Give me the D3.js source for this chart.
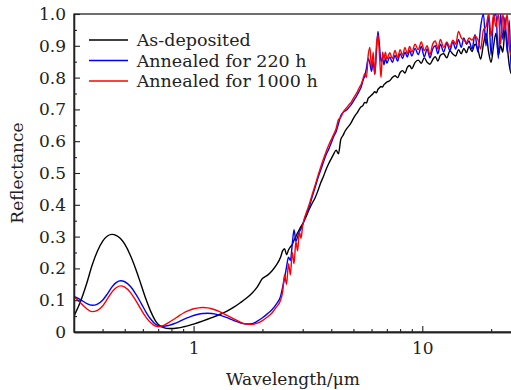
<!DOCTYPE html>
<html>
<head>
<meta charset="utf-8">
<script src="https://cdn.jsdelivr.net/npm/d3@7"></script>
<style>
    body { margin: 0; background: #fff; }
    svg { display: block; font-family: 'DejaVu Serif', serif; }
</style>
</head>
<body>
<svg id="chart"></svg>
<script>
// wavelength in um (shared grid for all three spectra)
const wavelength = [
    0.30, 0.32, 0.34, 0.36, 0.38, 0.40, 0.42, 0.44, 0.46, 0.48,
    0.50, 0.53, 0.56, 0.59, 0.62, 0.65, 0.68, 0.71, 0.74, 0.78,
    0.82, 0.86, 0.90, 0.95, 1.0, 1.05, 1.1, 1.15, 1.2, 1.3,
    1.4, 1.5, 1.6, 1.7, 1.8, 1.9, 2.0, 2.1, 2.2, 2.3,
    2.4, 2.45, 2.5, 2.55, 2.6, 2.65, 2.7, 2.75, 2.8, 2.85,
    2.9, 2.95, 3.0, 3.1, 3.2, 3.3, 3.4, 3.5, 3.6, 3.7,
    3.8, 3.9, 4.0, 4.1, 4.2, 4.3, 4.4, 4.5, 4.6, 4.7,
    4.8, 4.9, 5.0, 5.1, 5.2, 5.3, 5.4, 5.5, 5.6, 5.7,
    5.8, 5.9, 6.0, 6.1, 6.2, 6.3, 6.4, 6.5, 6.6, 6.7,
    6.8, 6.9, 7.0, 7.2, 7.4, 7.6, 7.8, 8.0, 8.2, 8.4,
    8.6, 8.8, 9.0, 9.3, 9.6, 9.9, 10.2, 10.5, 10.8, 11.1,
    11.4, 11.7, 12.0, 12.4, 12.8, 13.2, 13.6, 14.0, 14.4, 14.8,
    15.2, 15.6, 16.0, 16.5, 17.0, 17.5, 18.0, 18.5, 19.0, 19.5,
    20.0, 20.5, 21.0, 21.5, 22.0, 22.5, 23.0, 23.5, 24.0, 24.5,
    25.0
];

const as_deposited = [
    0.050, 0.095, 0.150, 0.210, 0.255, 0.285, 0.302, 0.307, 0.303, 0.293,
    0.276, 0.240, 0.196, 0.148, 0.102, 0.064, 0.036, 0.020, 0.014, 0.011,
    0.011, 0.013, 0.016, 0.020, 0.025, 0.030, 0.035, 0.040, 0.045, 0.055,
    0.066, 0.078, 0.092, 0.106, 0.122, 0.142, 0.168, 0.178, 0.192, 0.210,
    0.235, 0.255, 0.262, 0.243, 0.258, 0.268, 0.275, 0.289, 0.300, 0.312,
    0.322, 0.332, 0.340, 0.362, 0.385, 0.405, 0.422, 0.445, 0.470, 0.490,
    0.512, 0.530, 0.545, 0.560, 0.572, 0.560, 0.605, 0.618, 0.632, 0.642,
    0.650, 0.660, 0.672, 0.682, 0.690, 0.700, 0.708, 0.712, 0.722, 0.720,
    0.735, 0.740, 0.745, 0.750, 0.756, 0.752, 0.763, 0.768, 0.772, 0.770,
    0.778, 0.782, 0.786, 0.790, 0.800, 0.806, 0.800, 0.816, 0.822, 0.814,
    0.832, 0.838, 0.828, 0.848, 0.855, 0.845, 0.862, 0.848, 0.842, 0.856,
    0.866, 0.852, 0.870, 0.875, 0.862, 0.884, 0.874, 0.868, 0.888, 0.875,
    0.892, 0.878, 0.898, 0.882, 0.905, 0.888, 0.858, 0.905, 0.940, 0.880,
    0.848, 0.900, 0.940, 0.870, 0.900, 0.880, 0.950, 0.900, 0.840, 0.812,
    0.830
];

const annealed_220 = [
    0.112, 0.102, 0.090, 0.084, 0.088, 0.100, 0.120, 0.142, 0.156, 0.161,
    0.158, 0.143, 0.118, 0.090, 0.062, 0.040, 0.025, 0.018, 0.018, 0.021,
    0.026, 0.032, 0.039, 0.046, 0.052, 0.056, 0.058, 0.059, 0.058, 0.053,
    0.045, 0.036, 0.029, 0.025, 0.026, 0.034, 0.045, 0.057, 0.070, 0.088,
    0.112, 0.140, 0.170, 0.205, 0.235, 0.225, 0.275, 0.322, 0.285, 0.300,
    0.315, 0.325, 0.338, 0.368, 0.392, 0.425, 0.455, 0.485, 0.510, 0.535,
    0.558, 0.575, 0.595, 0.615, 0.630, 0.655, 0.680, 0.690, 0.695, 0.700,
    0.708, 0.716, 0.726, 0.736, 0.746, 0.758, 0.770, 0.790, 0.805, 0.830,
    0.860, 0.845, 0.820, 0.850, 0.810, 0.880, 0.945, 0.900, 0.850, 0.862,
    0.840, 0.862, 0.845, 0.865, 0.848, 0.870, 0.852, 0.875, 0.860, 0.880,
    0.865, 0.885, 0.868, 0.892, 0.872, 0.898, 0.865, 0.890, 0.862, 0.890,
    0.900, 0.875, 0.905, 0.880, 0.908, 0.885, 0.912, 0.890, 0.920, 0.895,
    0.925, 0.905, 0.915, 0.890, 0.935, 0.880, 0.960, 1.000, 0.900, 1.000,
    0.870, 0.990, 1.000, 0.860, 1.000, 0.920, 0.990, 0.880, 0.980, 0.820,
    0.900
];

const annealed_1000 = [
    0.112, 0.092, 0.074, 0.064, 0.068, 0.082, 0.104, 0.126, 0.140, 0.145,
    0.141, 0.124, 0.098, 0.070, 0.046, 0.029, 0.019, 0.017, 0.021, 0.030,
    0.040, 0.050, 0.059, 0.067, 0.073, 0.076, 0.077, 0.076, 0.073, 0.064,
    0.052, 0.041, 0.031, 0.025, 0.024, 0.028, 0.036, 0.047, 0.060, 0.078,
    0.100, 0.125, 0.180, 0.150, 0.215, 0.180, 0.250, 0.215, 0.285, 0.255,
    0.315, 0.295, 0.335, 0.372, 0.400, 0.432, 0.462, 0.492, 0.520, 0.545,
    0.568, 0.588, 0.605, 0.622, 0.640, 0.668, 0.675, 0.690, 0.700, 0.708,
    0.716, 0.724, 0.735, 0.745, 0.755, 0.768, 0.778, 0.795, 0.812, 0.800,
    0.870, 0.895, 0.830, 0.880, 0.810, 0.900, 0.935, 0.870, 0.800, 0.880,
    0.860, 0.880, 0.858, 0.878, 0.860, 0.885, 0.862, 0.888, 0.870, 0.895,
    0.875, 0.898, 0.880, 0.905, 0.888, 0.912, 0.885, 0.900, 0.872, 0.905,
    0.915, 0.890, 0.920, 0.895, 0.912, 0.895, 0.918, 0.905, 0.945, 0.925,
    0.918, 0.910, 0.925, 0.918, 0.930, 0.920, 0.890, 0.950, 0.960, 1.000,
    0.930, 1.000, 0.960, 1.000, 0.905, 1.000, 0.950, 1.000, 0.900, 0.870,
    0.900
];

const series_names = ['As-deposited', 'Annealed for 220 h', 'Annealed for 1000 h'];
const series_colors = ['#000000', '#0000ff', '#ff0000'];

const x_major_ticks = [1, 10];
const x_minor_ticks = [0.4, 0.5, 0.6, 0.7, 0.8, 0.9, 2, 3, 4, 5, 6, 7, 8, 9, 20];
const y_major_ticks = [0, 0.1, 0.2, 0.3, 0.4, 0.5, 0.6, 0.7, 0.8, 0.9, 1.0];
const y_minor_ticks = [0.05, 0.15, 0.25, 0.35, 0.45, 0.55, 0.65, 0.75, 0.85, 0.95];

class SpectrumChart {
    constructor (config, data) {
        this.config = {
            parent: config.parent,
            width: config.width || 511,
            height: config.height || 390,
            margin: config.margin || {top:14, right:0, bottom:58, left:74},
            xlabel: config.xlabel || '',
            ylabel: config.ylabel || '',
        };
        this.data = data;
        this.init();
    }

    init() {
        let self = this;

        self.svg = d3.select(self.config.parent)
            .attr('width', self.config.width)
            .attr('height', self.config.height);

        self.inner_width = 439.3;
        self.inner_height = self.config.height - self.config.margin.top - self.config.margin.bottom;

        self.chart = self.svg.append('g')
            .attr('transform', `translate(${self.config.margin.left}, ${self.config.margin.top})`);

        self.svg.append('clipPath')
            .attr('id', 'plot-clip')
            .append('rect')
            .attr('width', self.inner_width)
            .attr('height', self.inner_height);

        self.xscale = d3.scaleLog()
            .domain([0.3, 25])
            .range([0, self.inner_width]);

        self.yscale = d3.scaleLinear()
            .domain([0, 1])
            .range([self.inner_height, 0]);

        self.line = d3.line()
            .x( d => self.xscale(d.x) )
            .y( d => self.yscale(d.y) )
            .curve(d3.curveMonotoneX);

        // frame
        self.chart.append('rect')
            .attr('width', self.inner_width)
            .attr('height', self.inner_height)
            .attr('fill', 'none')
            .attr('stroke', '#222')
            .attr('stroke-width', 1.3);

        self.lines_group = self.chart.append('g')
            .attr('clip-path', 'url(#plot-clip)');

        self.xaxis = d3.axisBottom(self.xscale)
            .tickValues(x_major_ticks)
            .tickFormat(d3.format('d'))
            .tickSize(-6)
            .tickSizeOuter(0)
            .tickPadding(10);

        self.xaxis_minor = d3.axisBottom(self.xscale)
            .tickValues(x_minor_ticks)
            .tickFormat('')
            .tickSize(-3)
            .tickSizeOuter(0);

        self.yaxis = d3.axisLeft(self.yscale)
            .tickValues(y_major_ticks)
            .tickFormat( d => d === 0 ? '0' : d3.format('.1f')(d) )
            .tickSize(-6)
            .tickSizeOuter(0)
            .tickPadding(8);

        self.yaxis_minor = d3.axisLeft(self.yscale)
            .tickValues(y_minor_ticks)
            .tickFormat('')
            .tickSize(-3)
            .tickSizeOuter(0);

        self.xaxis_group = self.chart.append('g')
            .attr('transform', `translate(0, ${self.inner_height})`);
        self.xaxis_minor_group = self.chart.append('g')
            .attr('transform', `translate(0, ${self.inner_height})`);
        self.yaxis_group = self.chart.append('g');
        self.yaxis_minor_group = self.chart.append('g');

        self.svg.append('text')
            .style('font-size', '17px')
            .attr('fill', '#222')
            .attr('x', 293)
            .attr('y', 385)
            .attr('text-anchor', 'middle')
            .text( self.config.xlabel );

        self.svg.append('text')
            .style('font-size', '17px')
            .attr('fill', '#222')
            .attr('transform', `translate(17, 173) rotate(-90)`)
            .attr('text-anchor', 'middle')
            .attr('dy', '0.35em')
            .text( self.config.ylabel );
    }

    update() {
        let self = this;
        self.series = self.data.values.map( (vals, i) => ({
            name: self.data.names[i],
            color: self.data.colors[i],
            points: self.data.x.map( (x, j) => ({x: x, y: vals[j]}) )
        }));
        self.render();
    }

    render() {
        let self = this;

        self.lines_group.selectAll('path')
            .data(self.series)
            .join('path')
            .attr('d', d => self.line(d.points))
            .attr('stroke', d => d.color)
            .attr('stroke-width', 1.4)
            .attr('stroke-linejoin', 'round')
            .attr('fill', 'none');

        self.xaxis_group.call(self.xaxis);
        self.xaxis_minor_group.call(self.xaxis_minor);
        self.yaxis_group.call(self.yaxis);
        self.yaxis_minor_group.call(self.yaxis_minor);

        self.chart.selectAll('.domain')
            .attr('stroke', '#222')
            .attr('stroke-width', 1.3);
        self.chart.selectAll('.tick line')
            .attr('stroke', '#222')
            .attr('stroke-width', 1.1);
        self.chart.selectAll('.tick text')
            .style('font-size', '17px')
            .style('font-family', "'DejaVu Serif', serif")
            .attr('fill', '#222');

        // legend
        const legend = self.svg.append('g');
        const row_height = 20.5;
        const items = legend.selectAll('g')
            .data(self.series)
            .join('g')
            .attr('transform', (d, i) => `translate(89, ${40 + i * row_height})`);
        items.append('line')
            .attr('x1', 0)
            .attr('x2', 39)
            .attr('stroke', d => d.color)
            .attr('stroke-width', 1.3);
        items.append('text')
            .attr('x', 47.7)
            .attr('dy', '0.35em')
            .style('font-size', '17.5px')
            .attr('fill', '#222')
            .text( d => d.name );
    }
}

const chart = new SpectrumChart({
    parent: '#chart',
    width: 511,
    height: 390,
    xlabel: 'Wavelength/μm',
    ylabel: 'Reflectance'
}, {
    x: wavelength,
    values: [as_deposited, annealed_220, annealed_1000],
    names: series_names,
    colors: series_colors
});
chart.update();
</script>
</body>
</html>
